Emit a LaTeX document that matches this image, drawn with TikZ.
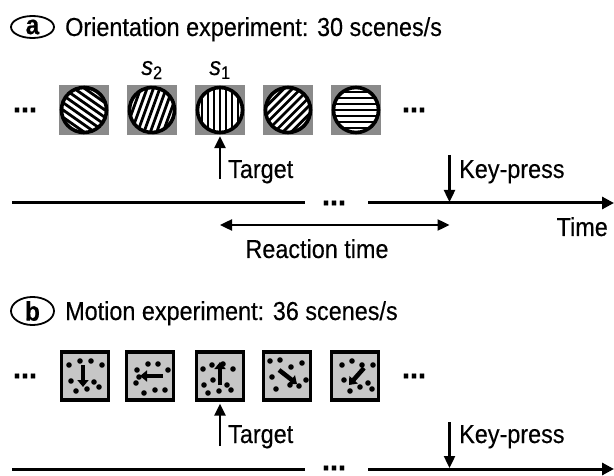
\documentclass[tikz,border=0pt]{standalone}
\usepackage{fontspec}
\setmainfont{Liberation Sans}[FakeStretch=0.9,FakeBold=0.3]
\usetikzlibrary{arrows.meta,shapes.geometric}
\definecolor{sqgray}{HTML}{8A8A8A}
\definecolor{boxgray}{HTML}{C6C6C6}
\newcommand\mygrating[2]{%
  \begin{scope}[shift={(#1)}, rotate=#2]
    \begin{scope}
      \clip (0,0) circle[radius=24];
      \fill[white] (0,0) circle[radius=24];
      \foreach \k in {-4,...,4}
        \fill[black] (\k*6-1.4,-26) rectangle (\k*6+1.4,26);
    \end{scope}
    \draw[line width=3.6pt] (0,0) circle[radius=22.5];
  \end{scope}}
\begin{document}
\begin{tikzpicture}[x=1pt,y=-1pt,
  every node/.style={font=\fontsize{26}{30}\selectfont, inner sep=0pt},
  txt/.style={anchor=base west},
  lab/.style={draw, ellipse, line width=1.8pt, minimum width=43pt, minimum height=22pt,
              font=\fontsize{27}{30}\selectfont\bfseries},
  gsq/.style={fill=sqgray, minimum width=50pt, minimum height=50pt},
  mbox/.style={draw, line width=3.2pt, fill=boxgray, minimum width=47pt, minimum height=48pt},
  arr/.style={line width=2.4pt, -{Triangle[length=12pt,width=11pt]}},
  darr/.style={line width=2.4pt, {Triangle[length=12pt,width=11pt]}-{Triangle[length=12pt,width=11pt]}},
  tline/.style={line width=3pt},
  marr/.style={line width=4.5pt, -{Triangle[length=7pt,width=11pt]}},
  dots/.style={anchor=center, font=\fontsize{32}{34}\selectfont\bfseries},
  spot/.style={fill=black}
]
\useasboundingbox (0,0) rectangle (614,476);
\fill[white] (0,0) rectangle (614,476);

% ---------------- Panel a ----------------
\node[lab] (labA) at (32.5,27) {a};
\node[txt] (titleA) at (65,36) {Orientation experiment: 30 scenes/s};

\node[dots] (ldotsA) at (25,110) {...};
\foreach \i/\x in {1/84,2/152,3/220,4/288,5/356}
  \node[gsq] (sq\i) at (\x,110) {};
\node[dots] (rdotsA) at (414,110) {...};

\mygrating{sq1.center}{55}
\mygrating{sq2.center}{-20}
\mygrating{sq3.center}{0}
\mygrating{sq4.center}{-45}
\mygrating{sq5.center}{90}

\node (s2) at (152,70) {\textit{s}\textsubscript{2}};
\node (s1) at (220,70) {\textit{s}\textsubscript{1}};

\coordinate (tA) at (220,179);
\draw[arr] (tA) -- ([yshift=-1pt]sq3.south);
\node[txt] (targetA) at (228,178) {Target};

\coordinate (tlA0) at (12,203);
\coordinate (tlA1) at (305,203);
\node[dots] (mdotsA) at (334,203) {...};
\coordinate (tlA2) at (368,203);
\coordinate (tlA3) at (614,203);
\draw[tline] (tlA0) -- (tlA1);
\draw[tline, -{Triangle[length=12pt,width=12pt]}] (tlA2) -- (tlA3);

\coordinate (kA0) at (449.5,155);
\coordinate (kA1) at (449.5,202);
\draw[arr] (kA0) -- (kA1);
\node[txt] (keyA) at (459,178) {Key-press};

\node[anchor=base east] (timeA) at (608,236) {Time};

\coordinate (rA0) at (220,225);
\coordinate (rA1) at (449.5,225);
\draw[darr] (rA0) -- (rA1);
\node[anchor=base] (rtA) at (317,258) {Reaction time};

% ---------------- Panel b ----------------
\node[lab] (labB) at (32.5,311) {b};
\node[txt] (titleB) at (65,320) {Motion experiment: 36 scenes/s};

\node[dots] (ldotsB) at (25,376) {...};
\foreach \i/\x in {1/85,2/150,3/220,4/287,5/355}
  \node[mbox] (mb\i) at (\x,376) {};
\node[dots] (rdotsB) at (414,376) {...};

% box 1: down
\begin{scope}[shift={(mb1.center)}]
  \foreach \p in {(-16,-11),(-5,-15),(6,-15),(17,-11),(-14,5),(-9,15),(2,13),(9,6),(14,11)}
    \fill[spot] \p circle[radius=2.8];
  \draw[marr] (-2,-11) -- (-2,11);
\end{scope}
% box 2: left
\begin{scope}[shift={(mb2.center)}]
  \foreach \p in {(-13,-6),(-2,-12),(8,-12),(18,-6),(-14,7),(-6,17),(5,14),(15,14),(-11,1)}
    \fill[spot] \p circle[radius=2.8];
  \draw[marr] (13,0) -- (-10,0);
\end{scope}
% box 3: up
\begin{scope}[shift={(mb3.center)}]
  \foreach \p in {(-17,-7),(-8,-11),(3,-12),(13,-7),(-16,9),(-7,4),(7,9),(11,14),(-12,17),(-1,15)}
    \fill[spot] \p circle[radius=2.8];
  \draw[marr] (0,9) -- (0,-14);
\end{scope}
% box 4: down-right
\begin{scope}[shift={(mb4.center)}]
  \foreach \p in {(-17,-15),(-7,-16),(4,-9),(15,-13),(-15,1),(-11,13),(3,9),(12,10),(19,4)}
    \fill[spot] \p circle[radius=2.8];
  \draw[marr] (-8,-6) -- (10,8);
\end{scope}
% box 5: down-left
\begin{scope}[shift={(mb5.center)}]
  \foreach \p in {(-13,-11),(-3,-15),(7,-11),(18,-11),(-11,4),(-5,15),(5,11),(13,7),(17,13)}
    \fill[spot] \p circle[radius=2.8];
  \draw[marr] (9,-8) -- (-6,9);
\end{scope}

\coordinate (tB) at (220,446);
\draw[arr] (tB) -- ([yshift=-2pt]mb3.south);
\node[txt] (targetB) at (228,443) {Target};

\coordinate (tlB0) at (12,469);
\coordinate (tlB1) at (305,469);
\node[dots] (mdotsB) at (334,468) {...};
\coordinate (tlB2) at (368,469);
\coordinate (tlB3) at (614,469);
\draw[tline] (tlB0) -- (tlB1);
\draw[tline, -{Triangle[length=12pt,width=12pt]}] (tlB2) -- (tlB3);

\coordinate (kB0) at (449.5,422);
\coordinate (kB1) at (449.5,468);
\draw[arr] (kB0) -- (kB1);
\node[txt] (keyB) at (459,443) {Key-press};
\end{tikzpicture}
\end{document}
